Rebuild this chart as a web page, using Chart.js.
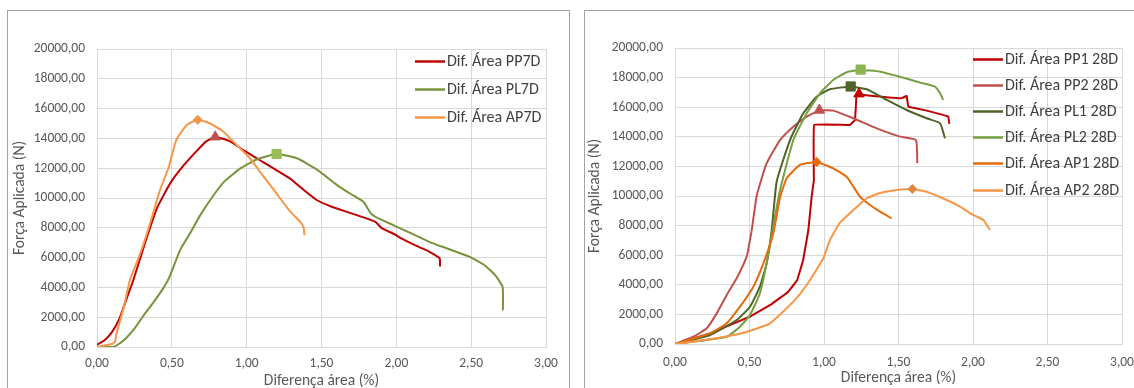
<!DOCTYPE html>
<html>
<head>
<meta charset="utf-8">
<script src="https://cdn.jsdelivr.net/npm/chart.js@4.4.3/dist/chart.umd.min.js"></script>
<style>
  html, body { margin: 0; padding: 0; background: #fff; width: 1134px; height: 388px; overflow: hidden; position: relative; }
  .frame { position: absolute; top: 10px; height: 420px; border: 1px solid #a3a3a3; }
  #f1 { left: 7px; width: 561px; }
  #f2 { left: 584px; width: 600px; }
  canvas { display: block; }
</style>
</head>
<body>
<div class="frame" id="f1"><canvas id="c1" width="561" height="400"></canvas></div>
<div class="frame" id="f2"><canvas id="c2" width="560" height="400"></canvas></div>
<script>
// --- 7 days ---
const PP7D_X = [0, 0.05, 0.1, 0.15, 0.2, 0.243, 0.32, 0.4, 0.49, 0.58, 0.67, 0.73, 0.79, 0.89, 0.98, 1.07, 1.16, 1.29, 1.38, 1.47, 1.56, 1.66, 1.78, 1.86, 1.9, 1.99, 2.03, 2.12, 2.2, 2.27, 2.29, 2.292];
const PP7D_Y = [150, 450, 1000, 1900, 3300, 4500, 6950, 9300, 11000, 12200, 13200, 13800, 14100, 13800, 13200, 12650, 12100, 11300, 10550, 9850, 9450, 9100, 8700, 8400, 8000, 7550, 7300, 6850, 6500, 6100, 5950, 5400];
const PL7D_X = [0, 0.1, 0.13, 0.19, 0.25, 0.32, 0.37, 0.44, 0.48, 0.555, 0.62, 0.69, 0.78, 0.85, 0.96, 1.07, 1.2, 1.34, 1.47, 1.6, 1.69, 1.78, 1.83, 1.88, 1.98, 2.1, 2.22, 2.34, 2.49, 2.59, 2.66, 2.71, 2.712];
const PL7D_Y = [0, 0, 100, 560, 1230, 2240, 2900, 3900, 4600, 6500, 7600, 8850, 10200, 11100, 12000, 12600, 12950, 12650, 11900, 10900, 10300, 9750, 8970, 8630, 8180, 7620, 7060, 6610, 6050, 5490, 4820, 4040, 2470];
const AP7D_X = [0, 0.1, 0.12, 0.13, 0.18, 0.22, 0.29, 0.355, 0.42, 0.48, 0.53, 0.6, 0.673, 0.756, 0.845, 0.934, 1.023, 1.112, 1.2, 1.29, 1.358, 1.38, 1.386];
const AP7D_Y = [0, 200, 350, 900, 2700, 4500, 6300, 8300, 10500, 12100, 13900, 14900, 15250, 15000, 14450, 13550, 12650, 11450, 10300, 9100, 8400, 8050, 7500];
const PEAK_PP7D = [0.79, 14100];
const PEAK_PL7D = [1.2, 12950];
const PEAK_AP7D = [0.673, 15250];

// --- 28 days ---
const PP1_X = [0, 0.235, 0.5, 0.64, 0.76, 0.82, 0.86, 0.895, 0.917, 0.932, 0.934, 1.174, 1.208, 1.219, 1.235, 1.33, 1.52, 1.555, 1.566, 1.69, 1.834, 1.841];
const PP1_Y = [0, 720, 1840, 2640, 3530, 4320, 5680, 7700, 9950, 11080, 14800, 14800, 15140, 16940, 16870, 16760, 16600, 16760, 16040, 15770, 15360, 14870];
const PP2_X = [0, 0.123, 0.213, 0.28, 0.347, 0.414, 0.481, 0.503, 0.515, 0.548, 0.582, 0.615, 0.705, 0.794, 0.884, 0.969, 1.062, 1.197, 1.354, 1.51, 1.617, 1.626];
const PP2_Y = [0, 490, 1060, 2070, 3310, 4440, 5900, 7030, 7700, 10000, 11200, 12210, 13780, 14680, 15360, 15770, 15770, 15250, 14570, 14010, 13780, 12210];
const PL1_X = [0, 0.235, 0.414, 0.503, 0.57, 0.615, 0.649, 0.683, 0.772, 0.861, 0.951, 1.04, 1.179, 1.287, 1.421, 1.555, 1.689, 1.779, 1.812];
const PL1_Y = [0, 610, 1620, 2520, 3870, 5450, 7700, 11000, 13780, 15590, 16710, 17210, 17390, 17210, 16490, 15810, 15250, 14910, 13900];
const PL2_X = [0, 0.347, 0.436, 0.503, 0.57, 0.615, 0.66, 0.705, 0.794, 0.884, 0.973, 1.062, 1.152, 1.246, 1.376, 1.51, 1.644, 1.745, 1.779, 1.8];
const PL2_Y = [0, 490, 1170, 1960, 3430, 5450, 8000, 10400, 13780, 15590, 16940, 17840, 18360, 18520, 18400, 18060, 17660, 17390, 16940, 16490];
const AP1_X = [0, 0.235, 0.347, 0.436, 0.526, 0.593, 0.66, 0.705, 0.75, 0.839, 0.951, 1.062, 1.152, 1.197, 1.242, 1.309, 1.376, 1.454];
const AP1_Y = [0, 720, 1400, 2520, 3870, 5450, 7480, 9900, 11200, 12100, 12280, 11870, 11300, 10630, 9950, 9390, 8940, 8490];
const AP2_X = [0, 0.235, 0.458, 0.638, 0.794, 0.884, 0.995, 1.04, 1.107, 1.197, 1.287, 1.376, 1.488, 1.593, 1.689, 1.823, 1.913, 2.002, 2.069, 2.114];
const AP2_Y = [0, 320, 760, 1400, 2860, 3990, 5790, 7030, 8200, 9050, 9840, 10200, 10400, 10470, 10290, 9730, 9280, 8720, 8380, 7700];
const PEAK_PP1 = [1.235, 16900];
const PEAK_PP2 = [0.969, 15800];
const PEAK_PL1 = [1.179, 17400];
const PEAK_PL2 = [1.246, 18540];
const PEAK_AP1 = [0.951, 12300];
const PEAK_AP2 = [1.593, 10470];

const X_TITLE = 'Diferença área (%)';
const Y_TITLE = 'Força Aplicada (N)';

const FONT = 'Carlito, Calibri, Lato, sans-serif';
const fmt = v => Number(v).toFixed(2).replace('.', ',');
const pts = (xs, ys) => xs.map((x, i) => ({ x, y: ys[i] }));

function line(label, xs, ys, color, order, tension = 0.15) {
  return { label, data: pts(xs, ys), borderColor: color, backgroundColor: color, borderWidth: 2, pointRadius: 0, tension, order };
}
function marker(peak, style, color, r) {
  return { isMarker: true, data: [{ x: peak[0], y: peak[1] }], showLine: false, pointStyle: style, pointRadius: r, pointBackgroundColor: color, pointBorderColor: color, borderWidth: 1, order: 0 };
}

// legend drawn inside the plot, like the Excel original
const insideLegend = {
  id: 'insideLegend',
  afterDatasetsDraw(chart, args, o) {
    const { ctx, chartArea } = chart;
    const items = chart.data.datasets.filter(d => !d.isMarker);
    ctx.save();
    ctx.font = '16px ' + FONT;
    ctx.textBaseline = 'middle';
    items.forEach((d, i) => {
      const y = Math.round(chartArea.top + o.top + i * o.gap) + 0.5;
      const x0 = chartArea.right + o.lineFrom;
      ctx.strokeStyle = d.borderColor;
      ctx.lineWidth = 2.5;
      ctx.beginPath(); ctx.moveTo(x0, y); ctx.lineTo(x0 + 30, y); ctx.stroke();
      ctx.fillStyle = '#404040';
      ctx.fillText(d.label, x0 + 32, y + 0.5);
    });
    ctx.restore();
  }
};

function makeChart(id, datasets, lay) {
  return new Chart(document.getElementById(id), {
    type: 'line',
    data: { datasets },
    plugins: [insideLegend],
    options: {
      responsive: false,
      animation: false,
      layout: { padding: { left: 0, top: lay.top, right: lay.right, bottom: 0 } },
      plugins: { legend: { display: false }, tooltip: { enabled: false }, insideLegend: lay.legend },
      scales: {
        x: {
          type: 'linear', min: 0, max: 3,
          ticks: { stepSize: 0.5, callback: fmt, color: '#595959', font: { family: FONT, size: 13.5 }, padding: lay.xtickPad, maxRotation: 0 },
          grid: { color: '#d9d9d9', drawTicks: false },
          border: { color: '#d9d9d9' },
          title: { display: true, text: X_TITLE, color: '#595959', font: { family: FONT, size: 15.5 }, padding: { top: 0, bottom: lay.xtPad } },
          afterFit: s => { s.height = lay.xh; }
        },
        y: {
          min: 0, max: 20000,
          ticks: { stepSize: 2000, callback: fmt, color: '#595959', font: { family: FONT, size: 13.5 }, padding: 12 },
          grid: { color: '#d9d9d9', drawTicks: false },
          border: { color: '#d9d9d9' },
          title: { display: true, text: Y_TITLE, color: '#595959', font: { family: FONT, size: 15.5 }, padding: { top: lay.ytPad, bottom: 0 } },
          afterFit: s => { s.width = lay.yw; }
        }
      }
    }
  });
}

makeChart('c1', [
  marker(PEAK_PP7D, 'triangle', '#C0504D', 6),
  marker(PEAK_PL7D, 'rect', '#9BBB59', 6.5),
  marker(PEAK_AP7D, 'rectRot', '#F79646', 4.5),
  line('Dif. Área PP7D', PP7D_X, PP7D_Y, '#C00000', 3),
  line('Dif. Área PL7D', PL7D_X, PL7D_Y, '#77933C', 2),
  line('Dif. Área AP7D', AP7D_X, AP7D_Y, '#F79646', 1)
], { top: 38, right: 23, yw: 89, xh: 64, xtPad: 20.5, ytPad: 2.5, xtickPad: 9, legend: { top: 12, gap: 28, lineFrom: -131 } });

makeChart('c2', [
  marker(PEAK_PP1, 'triangle', '#C00000', 6),
  marker(PEAK_PP2, 'triangle', '#C0504D', 6),
  marker(PEAK_PL1, 'rect', '#4F6228', 6.5),
  marker(PEAK_PL2, 'rect', '#8DB452', 6.5),
  marker(PEAK_AP1, 'rectRot', '#E46C0A', 4.5),
  marker(PEAK_AP2, 'rectRot', '#E0873F', 4.5),
  line('Dif. Área PP1 28D', PP1_X, PP1_Y, '#C00000', 6, 0.05),
  line('Dif. Área PP2 28D', PP2_X, PP2_Y, '#C0504D', 5),
  line('Dif. Área PL1 28D', PL1_X, PL1_Y, '#4F6228', 4),
  line('Dif. Área PL2 28D', PL2_X, PL2_Y, '#77A043', 3),
  line('Dif. Área AP1 28D', AP1_X, AP1_Y, '#E46C0A', 2),
  line('Dif. Área AP2 28D', AP2_X, AP2_Y, '#F79646', 1)
], { top: 37, right: 23, yw: 90, xh: 67, xtPad: 23.5, ytPad: 0.5, xtickPad: 11, legend: { top: 11, gap: 26.1, lineFrom: -149 } });
</script>
</body>
</html>
